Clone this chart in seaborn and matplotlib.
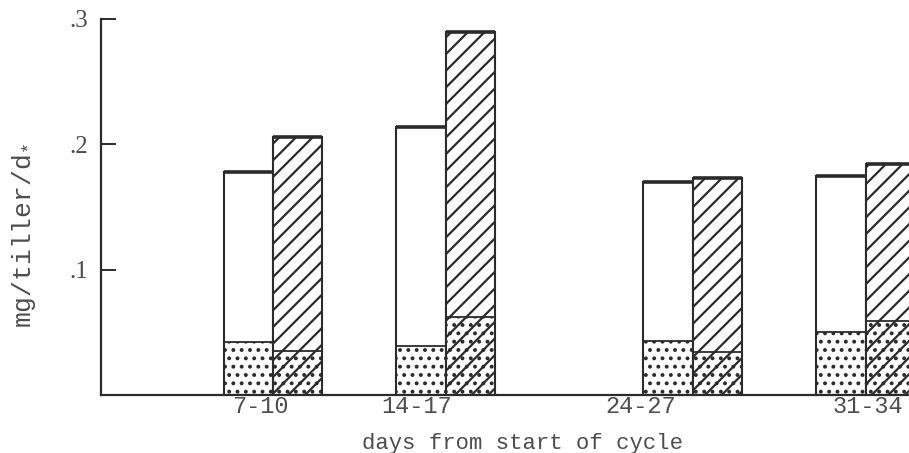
import matplotlib
matplotlib.use("Agg")
import matplotlib.pyplot as plt
import pandas as pd
import seaborn as sns

# Sampling intervals (days from start of cycle) and their midpoints
interval_mid = [8.5, 15.5, 25.5, 32.5]
interval_labels = ["7-10", "14-17", "24-27", "31-34"]
label_pos = [8.0, 14.3, 23.4, 32.6]

# Growth rates, mg/tiller/day
total_open = [0.178, 0.214, 0.170, 0.175]
total_hatched = [0.206, 0.290, 0.173, 0.184]
base_open = [0.042, 0.039, 0.043, 0.050]
base_hatched = [0.035, 0.062, 0.034, 0.059]

INK = "#2b2b2b"
TEXT = "#4d4d4d"

sns.set_style("ticks")
plt.rcParams["font.family"] = ["Liberation Mono", "DejaVu Sans"]
plt.rcParams["hatch.color"] = INK
plt.rcParams["hatch.linewidth"] = 1.6
plt.rcParams["mathtext.fontset"] = "custom"
plt.rcParams["mathtext.rm"] = "Liberation Mono"

totals = pd.DataFrame({
    "mid": interval_mid * 2,
    "group": ["open"] * 4 + ["hatched"] * 4,
    "value": total_open + total_hatched,
})
bases = pd.DataFrame({
    "mid": interval_mid * 2,
    "group": ["open"] * 4 + ["hatched"] * 4,
    "value": base_open + base_hatched,
})

fig = plt.figure(figsize=(9.09, 4.53), dpi=100)
ax = fig.add_axes([101 / 909, 1 - 395 / 453, 808 / 909, (395 - 19) / 453])

common = dict(x="mid", y="value", hue="group", hue_order=["open", "hatched"],
              native_scale=True, width=4 / 7, dodge=True, errorbar=None,
              legend=False, saturation=1, ax=ax,
              palette={"open": "white", "hatched": "white"})

sns.barplot(data=totals, edgecolor=INK, linewidth=1.5, **common)
sns.barplot(data=bases, edgecolor=INK, linewidth=1.3, **common)

# diagonal hatching on the second series, stippling on the basal portions
for p in ax.containers[1]:
    p.set_hatch("//")
for cont in ax.containers[2:]:
    for p in cont:
        p.set_facecolor("none")
        p.set_hatch("..")
        p.set_zorder(3)

# heavier rim along the top of each full bar
for cont in ax.containers[:2]:
    for p in cont:
        ax.hlines(p.get_height(), p.get_x(), p.get_x() + p.get_width(),
                  color=INK, lw=2.6, zorder=4)

ax.set_xlim(1.54, 34.25)
ax.set_ylim(0, 0.3)
ax.set_yticks([0.1, 0.2, 0.3], [".1", ".2", ".3"])
ax.set_xticks(label_pos, interval_labels)

ax.tick_params(axis="y", direction="in", length=11, width=1.4, color=INK,
               labelsize=18, labelcolor=TEXT, pad=9)
ax.tick_params(axis="x", length=0, labelsize=17, labelcolor=TEXT, pad=0)
for lab in ax.get_yticklabels():
    lab.set_family(["Liberation Serif", "DejaVu Serif"])

for s in ("top", "right"):
    ax.spines[s].set_visible(False)
for s in ("left", "bottom"):
    ax.spines[s].set_color(INK)
    ax.spines[s].set_linewidth(1.6)

ax.set_xlabel("days from start of cycle", fontsize=16, color=TEXT)
ax.set_ylabel(r"mg/tiller/d$_{*}$", fontsize=19, color=TEXT)
ax.xaxis.set_label_coords(0.522, -0.1)
ax.yaxis.set_label_coords(-0.078, 0.425)

fig.savefig("out.png", dpi=100)
